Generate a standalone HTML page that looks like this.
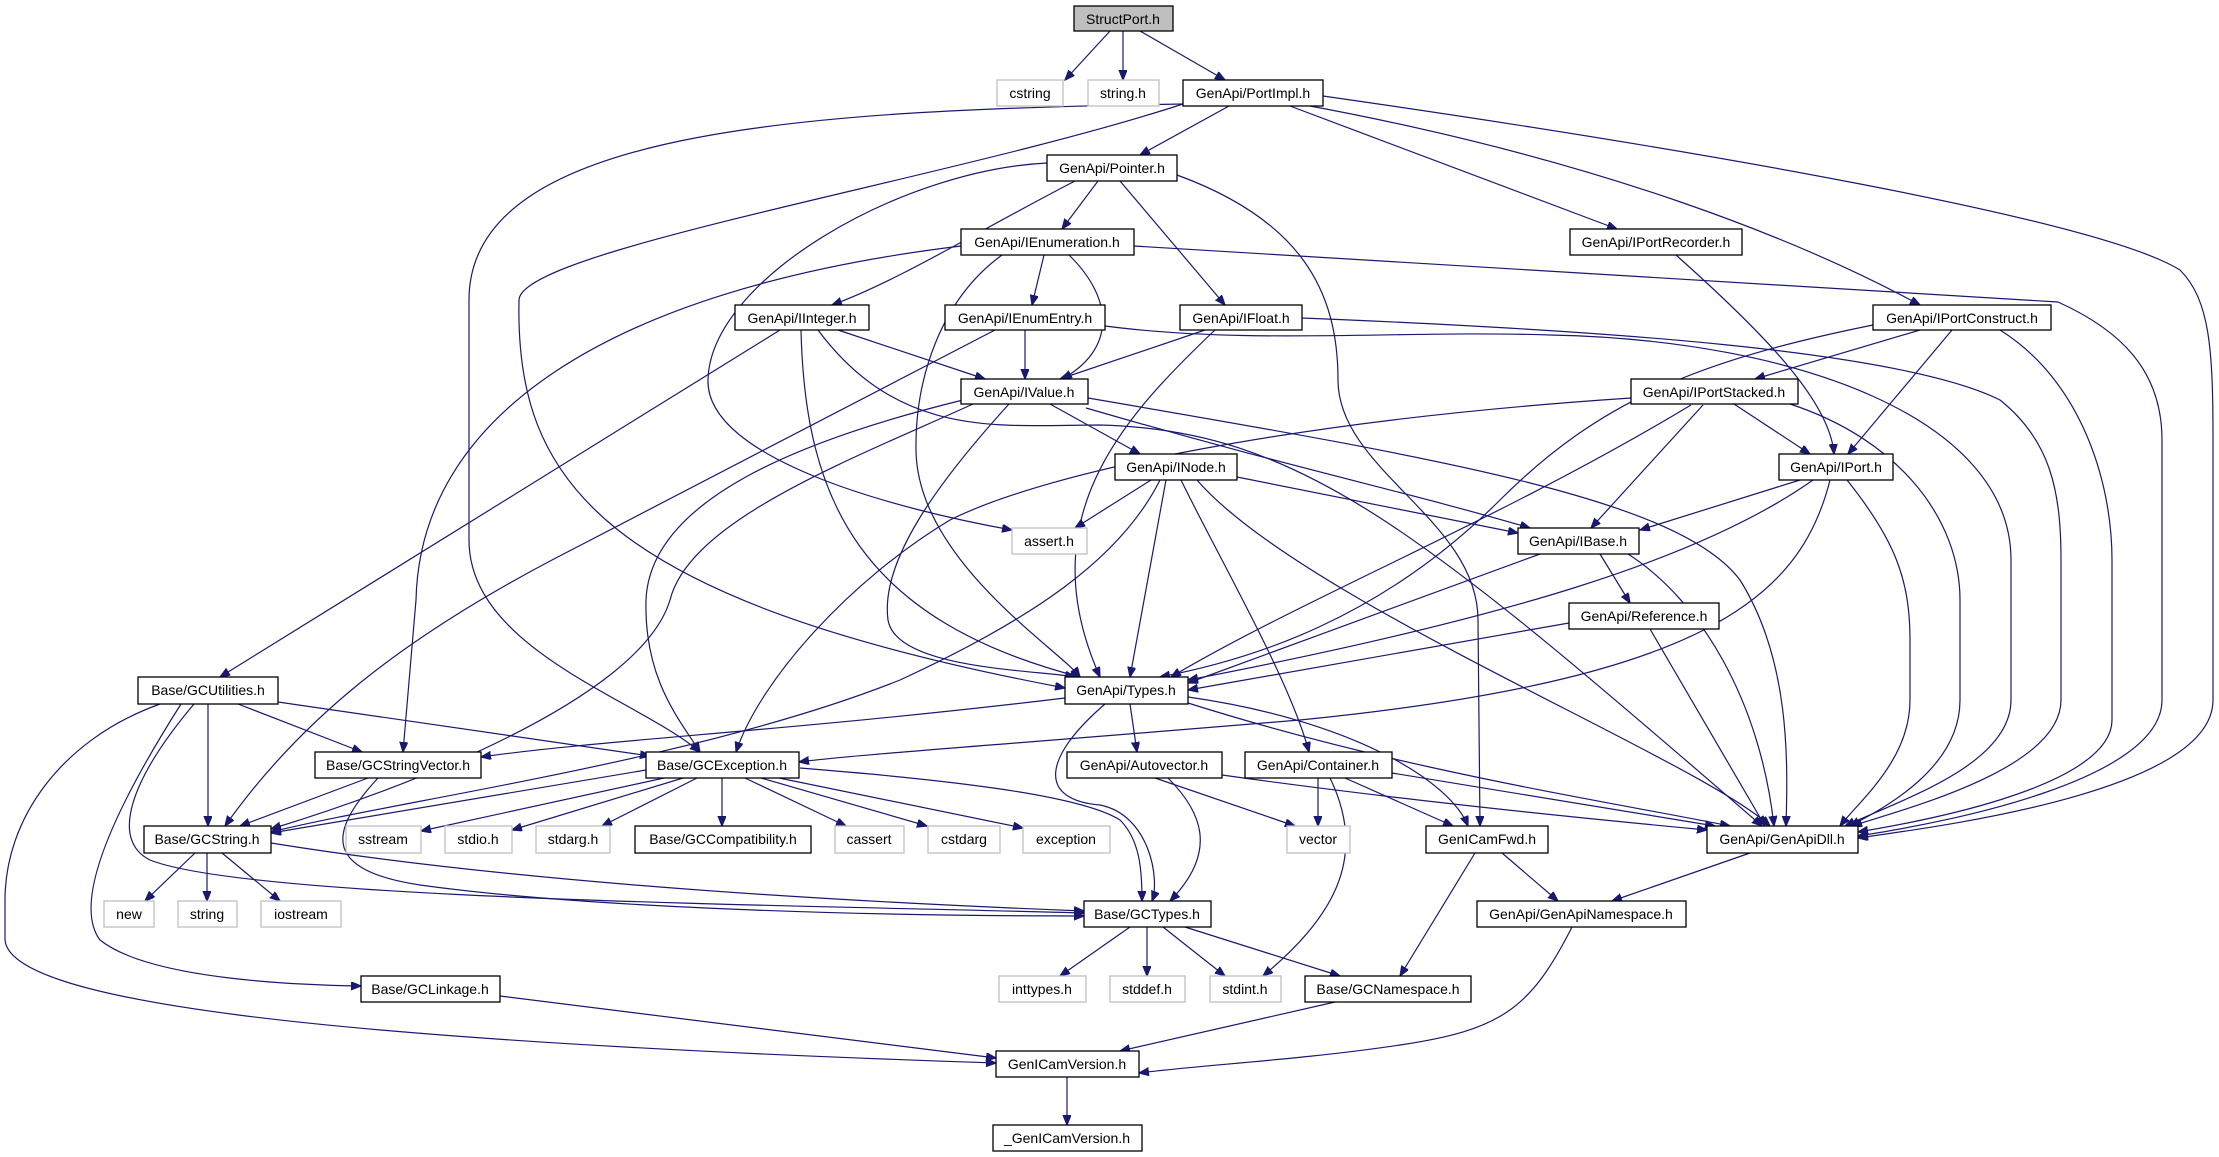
<!DOCTYPE html>
<html><head><meta charset="utf-8"><style>
html,body{margin:0;padding:0;background:#fff;}
svg{display:block;}
text{font-family:"Liberation Sans",sans-serif;font-size:14px;fill:#000;text-anchor:middle;}
.b{fill:#fff;stroke:#000;stroke-width:1.3;}
.g{fill:#fff;stroke:#bfbfbf;stroke-width:1.3;}
.r{fill:#bfbfbf;stroke:#000;stroke-width:1.3;}
path{fill:none;stroke:#191970;stroke-width:1.2;marker-end:url(#a);}
</style></head><body>
<svg width="2219" height="1157" viewBox="0 0 2219 1157" xmlns="http://www.w3.org/2000/svg">
<defs><marker id="a" markerUnits="userSpaceOnUse" markerWidth="11" markerHeight="9" refX="10" refY="4" orient="auto"><path d="M0,0 L10,4 L0,8 z" style="fill:#191970;stroke:#191970;marker-end:none"/></marker></defs>
<g>
<path d="M1110,31 L1065,80"/>
<path d="M1123,31 L1123,80"/>
<path d="M1140,31 L1225,80"/>
<path d="M1229,106 L1140,155"/>
<path d="M1290,106 L1617,229"/>
<path d="M1310,106 C1600,160 1800,240 1920,305"/>
<path d="M1323,96 C1700,150 2100,220 2180,270 C2210,300 2213,350 2213,440 L2213,700 C2213,790 1950,825 1858,838"/>
<path d="M1183,104 C800,110 469,130 469,300 L469,540 C469,650 640,700 700,752"/>
<path d="M1183,104 C950,180 520,250 519,300 C515,480 600,600 1065,688"/>
<path d="M1098,181 L1062,229"/>
<path d="M1075,181 C980,230 900,280 832,305"/>
<path d="M1120,181 L1225,305"/>
<path d="M1047,163 C900,170 710,280 708,380 C706,460 900,510 1012,530"/>
<path d="M1177,175 C1300,220 1338,290 1338,380 C1338,470 1478,520 1478,620 L1480,826"/>
<path d="M1044,255 L1032,305"/>
<path d="M1069,255 C1115,300 1115,350 1062,379"/>
<path d="M1002,255 C940,300 915,380 916,450 C917,560 1060,650 1080,677"/>
<path d="M961,246 C600,290 420,420 416,600 L403,752"/>
<path d="M1134,246 L2058,302 C2120,330 2162,370 2162,440 L2162,700 C2162,780 1950,822 1858,836"/>
<path d="M838,330 L985,379"/>
<path d="M780,330 L220,677"/>
<path d="M801,330 C805,500 860,620 1080,677"/>
<path d="M818,330 C900,440 1000,425 1100,425 C1300,430 1420,530 1762,826"/>
<path d="M1025,330 L1025,379"/>
<path d="M995,330 L552,560 C400,640 300,720 225,826"/>
<path d="M1105,326 C1250,345 1400,330 1550,335 C1800,340 2011,420 2011,560 L2011,700 C2011,765 1900,800 1845,826"/>
<path d="M1205,330 L1060,379"/>
<path d="M1215,330 C1120,420 1030,520 1100,677"/>
<path d="M1302,318 C1600,330 1900,350 2000,400 C2050,440 2061,490 2061,560 L2061,700 C2061,770 1900,810 1852,826"/>
<path d="M1676,255 C1760,330 1830,400 1834,454"/>
<path d="M1920,330 L1755,379"/>
<path d="M1952,330 L1848,454"/>
<path d="M1873,325 C1700,360 1600,400 1500,500 C1380,620 1250,660 1160,677"/>
<path d="M2000,330 C2080,380 2112,480 2112,560 L2112,720 C2112,790 1900,825 1858,832"/>
<path d="M1050,404 L1140,454"/>
<path d="M1086,408 C1300,470 1400,490 1530,528"/>
<path d="M1088,398 C1450,460 1680,500 1740,580 C1790,660 1788,760 1786,826"/>
<path d="M1009,404 C940,480 880,560 888,620 C896,670 1040,670 1075,677"/>
<path d="M963,400 C800,440 650,500 646,600 C644,680 680,720 700,752"/>
<path d="M973,404 C850,460 690,520 670,600 C640,700 400,790 271,829"/>
<path d="M1734,404 L1810,454"/>
<path d="M1703,405 L1591,528"/>
<path d="M1691,405 C1500,520 1300,600 1171,677"/>
<path d="M1631,398 C1300,420 1050,470 950,520 C850,580 760,680 736,752"/>
<path d="M1790,404 C1900,440 1960,520 1960,600 L1960,700 C1960,770 1880,810 1850,826"/>
<path d="M1151,480 L1075,528"/>
<path d="M1237,477 L1518,533"/>
<path d="M1166,480 L1130,677"/>
<path d="M1181,480 C1220,560 1290,680 1309,752"/>
<path d="M1197,480 C1300,600 1700,760 1770,826"/>
<path d="M1160,480 C1120,560 1030,620 900,680 C700,760 400,800 271,832"/>
<path d="M1800,480 L1640,530"/>
<path d="M1813,480 C1700,560 1500,620 1188,680"/>
<path d="M1830,480 C1800,600 1700,680 1300,720 C1000,745 850,755 799,762"/>
<path d="M1847,480 C1895,540 1910,580 1910,640 L1910,700 C1910,760 1860,800 1840,826"/>
<path d="M1600,554 L1630,603"/>
<path d="M1540,554 L1188,683"/>
<path d="M1628,554 C1700,600 1760,700 1774,826"/>
<path d="M1569,623 L1188,690"/>
<path d="M1650,629 L1765,826"/>
<path d="M1130,704 L1137,752"/>
<path d="M1105,704 C1040,760 1040,800 1100,805 C1150,815 1160,880 1152,901"/>
<path d="M1065,698 C800,730 600,740 481,757"/>
<path d="M1188,697 C1350,720 1450,780 1468,826"/>
<path d="M1188,703 C1400,770 1600,800 1730,826"/>
<path d="M238,704 L362,752"/>
<path d="M278,702 L650,756"/>
<path d="M208,704 L208,826"/>
<path d="M194,704 C130,780 110,840 150,860 C250,900 800,905 1084,913"/>
<path d="M181,704 C120,800 70,900 100,940 C150,980 300,985 361,986"/>
<path d="M160,704 C60,740 5,820 5,900 L5,940 C10,1000 300,1040 996,1063"/>
<path d="M368,778 L240,826"/>
<path d="M378,778 C330,830 320,870 420,885 C600,910 900,916 1084,916"/>
<path d="M646,770 L271,833"/>
<path d="M664,778 L421,831"/>
<path d="M683,778 L512,830"/>
<path d="M697,778 L602,826"/>
<path d="M722,778 L722,826"/>
<path d="M745,778 L846,826"/>
<path d="M761,778 L927,826"/>
<path d="M779,778 L1023,828"/>
<path d="M800,768 C950,780 1080,795 1120,820 C1140,840 1142,870 1142,901"/>
<path d="M1155,778 L1295,826"/>
<path d="M1168,778 C1200,810 1220,850 1170,901"/>
<path d="M1222,775 C1400,800 1600,820 1707,830"/>
<path d="M1318,778 L1318,826"/>
<path d="M1345,778 L1453,826"/>
<path d="M1330,778 C1370,860 1330,920 1263,976"/>
<path d="M1392,773 L1715,826"/>
<path d="M195,853 L145,901"/>
<path d="M207,853 L207,901"/>
<path d="M222,853 L280,901"/>
<path d="M271,843 C500,880 800,900 1084,911"/>
<path d="M1502,853 L1558,901"/>
<path d="M1475,853 L1400,976"/>
<path d="M1750,853 L1612,901"/>
<path d="M1130,927 L1060,976"/>
<path d="M1147,927 L1147,976"/>
<path d="M1163,927 L1225,976"/>
<path d="M1185,927 L1340,976"/>
<path d="M1572,927 C1530,1010 1500,1030 1400,1045 C1300,1060 1200,1065 1139,1073"/>
<path d="M1335,1002 L1120,1051"/>
<path d="M500,996 L996,1058"/>
<path d="M1067,1077 L1067,1125"/>
</g>
<g>
<rect class="r" x="1074" y="6" width="99" height="25"/><text x="1123" y="24">StructPort.h</text>
<rect class="g" x="997" y="80" width="66" height="26"/><text x="1030" y="98">cstring</text>
<rect class="g" x="1088" y="80" width="71" height="26"/><text x="1123" y="98">string.h</text>
<rect class="b" x="1183" y="80" width="140" height="26"/><text x="1253" y="98">GenApi/PortImpl.h</text>
<rect class="b" x="1047" y="155" width="130" height="26"/><text x="1112" y="173">GenApi/Pointer.h</text>
<rect class="b" x="961" y="229" width="173" height="26"/><text x="1047" y="247">GenApi/IEnumeration.h</text>
<rect class="b" x="1570" y="229" width="172" height="26"/><text x="1656" y="247">GenApi/IPortRecorder.h</text>
<rect class="b" x="735" y="305" width="134" height="25"/><text x="802" y="323">GenApi/IInteger.h</text>
<rect class="b" x="945" y="305" width="160" height="25"/><text x="1025" y="323">GenApi/IEnumEntry.h</text>
<rect class="b" x="1180" y="305" width="122" height="25"/><text x="1241" y="323">GenApi/IFloat.h</text>
<rect class="b" x="1873" y="305" width="178" height="25"/><text x="1962" y="323">GenApi/IPortConstruct.h</text>
<rect class="b" x="961" y="379" width="127" height="25"/><text x="1024" y="397">GenApi/IValue.h</text>
<rect class="b" x="1631" y="379" width="167" height="25"/><text x="1714" y="397">GenApi/IPortStacked.h</text>
<rect class="b" x="1115" y="454" width="122" height="26"/><text x="1176" y="472">GenApi/INode.h</text>
<rect class="b" x="1779" y="454" width="114" height="26"/><text x="1836" y="472">GenApi/IPort.h</text>
<rect class="g" x="1012" y="528" width="75" height="26"/><text x="1049" y="546">assert.h</text>
<rect class="b" x="1518" y="528" width="121" height="26"/><text x="1578" y="546">GenApi/IBase.h</text>
<rect class="b" x="1569" y="603" width="150" height="26"/><text x="1644" y="621">GenApi/Reference.h</text>
<rect class="b" x="138" y="677" width="140" height="27"/><text x="208" y="695">Base/GCUtilities.h</text>
<rect class="b" x="1065" y="677" width="123" height="27"/><text x="1126" y="695">GenApi/Types.h</text>
<rect class="b" x="315" y="752" width="166" height="26"/><text x="398" y="770">Base/GCStringVector.h</text>
<rect class="b" x="646" y="752" width="153" height="26"/><text x="722" y="770">Base/GCException.h</text>
<rect class="b" x="1067" y="752" width="155" height="26"/><text x="1144" y="770">GenApi/Autovector.h</text>
<rect class="b" x="1245" y="752" width="147" height="26"/><text x="1318" y="770">GenApi/Container.h</text>
<rect class="b" x="144" y="826" width="127" height="27"/><text x="207" y="844">Base/GCString.h</text>
<rect class="g" x="346" y="826" width="75" height="27"/><text x="383" y="844">sstream</text>
<rect class="g" x="445" y="826" width="67" height="27"/><text x="478" y="844">stdio.h</text>
<rect class="g" x="536" y="826" width="74" height="27"/><text x="573" y="844">stdarg.h</text>
<rect class="b" x="635" y="826" width="176" height="27"/><text x="723" y="844">Base/GCCompatibility.h</text>
<rect class="g" x="835" y="826" width="69" height="27"/><text x="869" y="844">cassert</text>
<rect class="g" x="928" y="826" width="72" height="27"/><text x="964" y="844">cstdarg</text>
<rect class="g" x="1023" y="826" width="87" height="27"/><text x="1066" y="844">exception</text>
<rect class="g" x="1287" y="826" width="63" height="27"/><text x="1318" y="844">vector</text>
<rect class="b" x="1426" y="826" width="122" height="27"/><text x="1487" y="844">GenICamFwd.h</text>
<rect class="b" x="1707" y="826" width="151" height="27"/><text x="1782" y="844">GenApi/GenApiDll.h</text>
<rect class="g" x="104" y="901" width="50" height="26"/><text x="129" y="919">new</text>
<rect class="g" x="178" y="901" width="59" height="26"/><text x="207" y="919">string</text>
<rect class="g" x="261" y="901" width="80" height="26"/><text x="301" y="919">iostream</text>
<rect class="b" x="1084" y="901" width="127" height="26"/><text x="1147" y="919">Base/GCTypes.h</text>
<rect class="b" x="1477" y="901" width="209" height="26"/><text x="1581" y="919">GenApi/GenApiNamespace.h</text>
<rect class="b" x="361" y="976" width="139" height="26"/><text x="430" y="994">Base/GCLinkage.h</text>
<rect class="g" x="999" y="976" width="87" height="26"/><text x="1042" y="994">inttypes.h</text>
<rect class="g" x="1110" y="976" width="75" height="26"/><text x="1147" y="994">stddef.h</text>
<rect class="g" x="1210" y="976" width="71" height="26"/><text x="1245" y="994">stdint.h</text>
<rect class="b" x="1305" y="976" width="166" height="26"/><text x="1388" y="994">Base/GCNamespace.h</text>
<rect class="b" x="996" y="1051" width="143" height="26"/><text x="1067" y="1069">GenICamVersion.h</text>
<rect class="b" x="993" y="1125" width="149" height="26"/><text x="1067" y="1143">_GenICamVersion.h</text>
</g>
</svg>
</body></html>
